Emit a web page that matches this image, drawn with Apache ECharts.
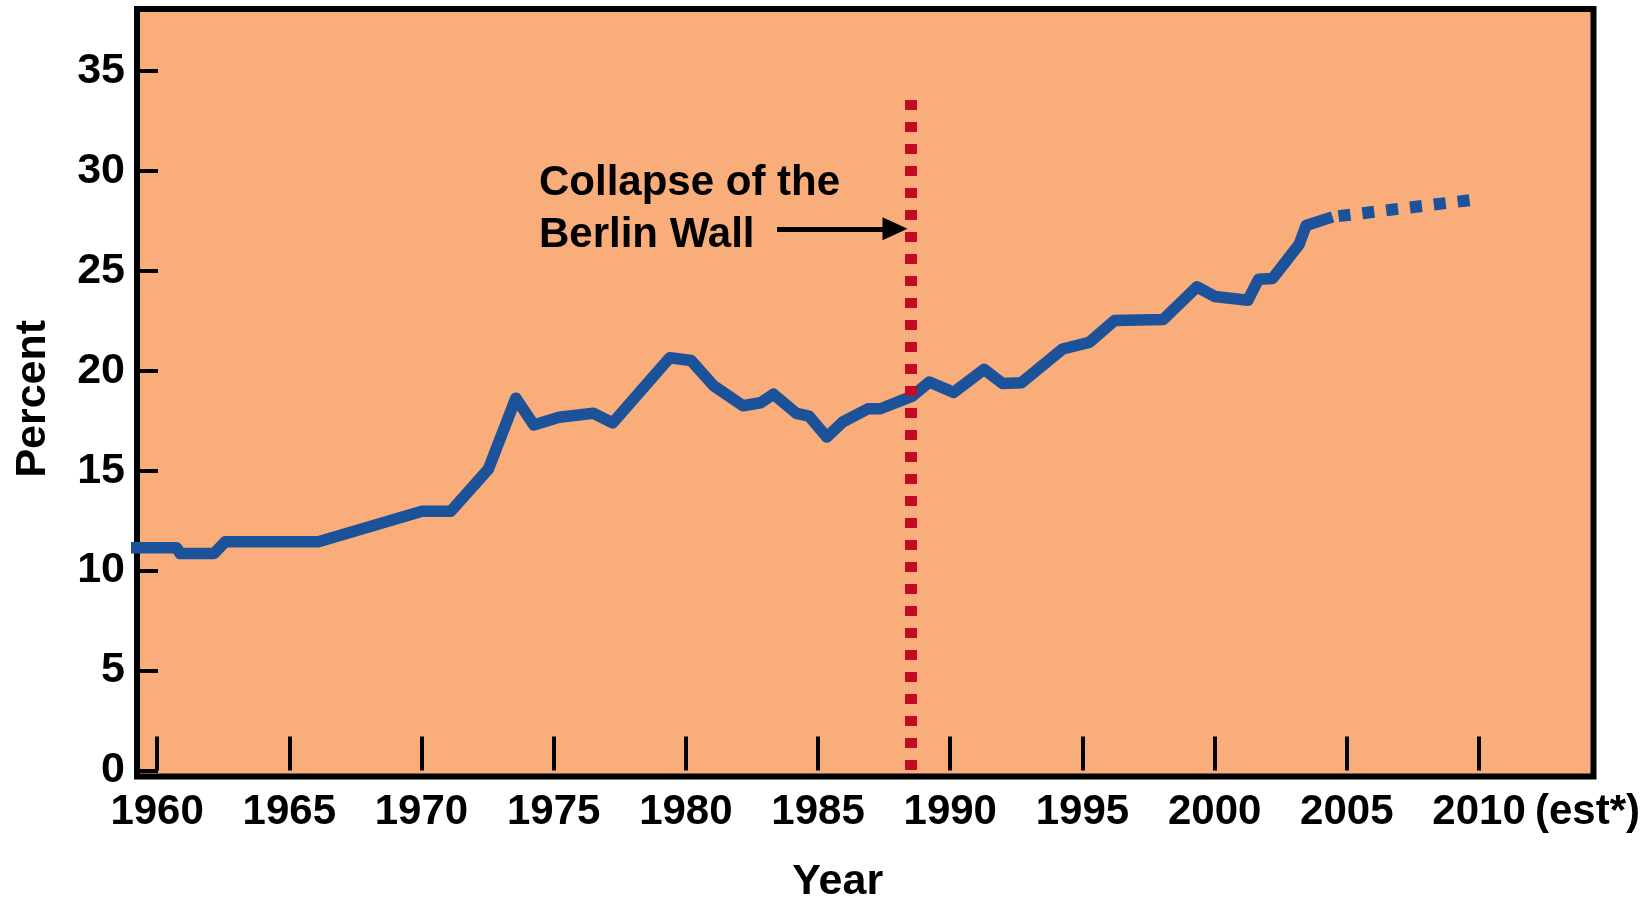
<!DOCTYPE html>
<html>
<head>
<meta charset="utf-8">
<title>Percent by year</title>
<script src="https://cdn.jsdelivr.net/npm/echarts@6/dist/echarts.min.js"></script>
<style>
  html, body { margin: 0; padding: 0; background: #fff; }
  #main { width: 1652px; height: 898px; }
</style>
</head>
<body>
<div id="main"></div>
<script>
// measured series (solid part)
var years = [1959, 1960.74, 1960.87, 1962.16, 1962.57, 1966.1, 1970.02, 1971.11, 1972.53, 1973.57,
  1974.25, 1975.2, 1976.51, 1977.23, 1979.39, 1980.2, 1981.05, 1982.16, 1982.83, 1983.31,
  1984.18, 1984.66, 1985.33, 1985.94, 1986.89, 1987.36, 1988.57, 1989.21, 1990.13, 1991.28,
  1991.98, 1992.69, 1994.25, 1995.26, 1996.21, 1998.06, 1999.33, 2000.0, 2001.26, 2001.66,
  2002.19, 2003.19, 2003.46, 2004.46]
var percent = [11.15, 11.15, 10.86, 10.86, 11.44, 11.44, 12.97, 12.97, 15.08, 18.63,
  17.29, 17.67, 17.87, 17.39, 20.65, 20.51, 19.25, 18.25, 18.4, 18.83,
  17.87, 17.73, 16.68, 17.44, 18.1, 18.1, 18.73, 19.44, 18.92, 20.07,
  19.36, 19.4, 21.09, 21.42, 22.51, 22.57, 24.2, 23.72, 23.53, 24.58,
  24.62, 26.31, 27.27, 27.7]
// estimate (dotted part)
var estYears = [2004.46, 2009.74]
var estPercent = [27.7, 28.55]

var xTicks = [1960, 1965, 1970, 1975, 1980, 1985, 1990, 1995, 2000, 2005, 2010]
var yTicks = [0, 5, 10, 15, 20, 25, 30, 35]
var estNote = '(est*)'

// annotation
var wallYear = 1988.52
var wallTop = 33.55
var noteText = 'Collapse of the\nBerlin Wall'
var arrowFrom = [1983.45, 27.1]
var arrowTo = [1987.91, 27.1]

function pairs(xs, ys) {
  return xs.map(function (x, i) { return [x, ys[i]] })
}

var font = '"Liberation Sans", Arial, Helvetica, sans-serif'
var chart = echarts.init(document.getElementById('main'))
var option = {
  animation: false,
  grid: {
    left: 137,
    right: 58.5,
    top: 9,
    bottom: 121.5,
    outerBoundsMode: 'none',
    containLabel: false,
    show: true,
    backgroundColor: '#f8ad7a',
    borderColor: '#000',
    borderWidth: 6
  },
  xAxis: {
    type: 'value',
    min: 1959.24,
    max: 2014.33,
    name: 'Year',
    nameLocation: 'middle',
    nameGap: 84,
    nameTextStyle: {
      fontFamily: font, fontWeight: 'bold', fontSize: 43, color: '#000',
      padding: [0, 55, 0, 0]
    },
    axisLine: { show: false },
    splitLine: { show: false },
    axisTick: {
      show: true, inside: true, length: 34, customValues: xTicks,
      lineStyle: { color: '#000', width: 4 }
    },
    axisLabel: {
      customValues: xTicks,
      margin: 15,
      fontFamily: font, fontWeight: 'bold', fontSize: 42, color: '#000',
      formatter: function (v) { return String(v) }
    }
  },
  yAxis: {
    type: 'value',
    min: -0.3,
    max: 38.1,
    name: 'Percent',
    nameLocation: 'middle',
    nameRotate: 90,
    nameGap: 82,
    nameTextStyle: {
      fontFamily: font, fontWeight: 'bold', fontSize: 43, color: '#000',
      padding: [0, 12, 0, 0]
    },
    axisLine: { show: false },
    splitLine: { show: false },
    axisTick: {
      show: true, inside: true, length: 21, customValues: yTicks,
      lineStyle: { color: '#000', width: 4 }
    },
    axisLabel: {
      customValues: yTicks,
      margin: 12,
      fontFamily: font, fontWeight: 'bold', fontSize: 43, color: '#000'
    }
  },
  series: [
    {
      type: 'line',
      symbol: 'none',
      clip: true,
      lineStyle: { color: '#1b5299', width: 11.5, join: 'round' },
      data: pairs(years, percent)
    },
    {
      type: 'line',
      symbol: 'none',
      clip: true,
      lineStyle: { color: '#1b5299', width: 12, type: [12, 12], dashOffset: 18, cap: 'butt' },
      data: pairs(estYears, estPercent),
      markLine: {
        silent: true,
        symbol: 'none',
        label: { show: false },
        lineStyle: { color: '#c20a25', width: 12, type: [10, 12], cap: 'butt' },
        data: [
          [
            { coord: [wallYear, wallTop] },
            { coord: [wallYear, -0.3] }
          ],
          [
            { coord: arrowFrom, symbol: 'none', lineStyle: { color: '#000', width: 5, type: 'solid' } },
            { coord: arrowTo, symbol: 'triangle', symbolSize: [23, 25], itemStyle: { color: '#000' } }
          ]
        ]
      }
    }
  ],
  graphic: [
    {
      type: 'text',
      left: 539,
      top: 157,
      style: {
        text: noteText,
        fontFamily: font,
        fontWeight: 'bold',
        fontSize: 42,
        lineHeight: 52,
        fill: '#000'
      }
    },
    {
      type: 'text',
      left: 1535,
      top: 791,
      style: {
        text: estNote,
        fontFamily: font,
        fontWeight: 'bold',
        fontSize: 42,
        fill: '#000'
      }
    }
  ]
}
chart.setOption(option)
</script>
</body>
</html>
